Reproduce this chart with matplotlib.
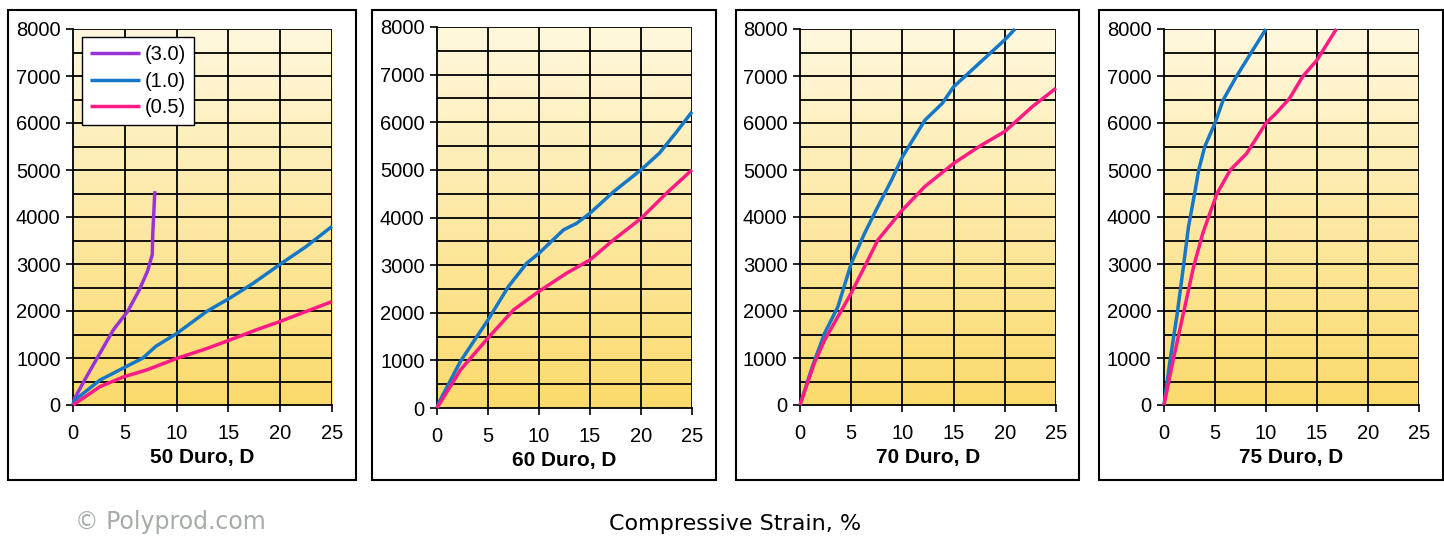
import matplotlib.pyplot as plt
import numpy as np
from matplotlib.colors import LinearSegmentedColormap
from matplotlib.patches import Rectangle

# ---- data (strain %, stress psi) ----
panel_titles = ["50 Duro, D", "60 Duro, D", "70 Duro, D", "75 Duro, D"]
series_names = ["(3.0)", "(1.0)", "(0.5)"]
series_colors = ["#9A33D6", "#1577C6", "#FF1A86"]

d50_s30_x = [0, 0.15, 1.3, 2.6, 3.9, 5.3, 6.4, 7.2, 7.65, 7.7, 7.8, 7.9]
d50_s30_y = [0, 140, 600, 1100, 1600, 2000, 2450, 2850, 3200, 3650, 4100, 4550]
d50_s10_x = [0, 0.15, 2.6, 4.8, 6.75, 8, 10, 12.9, 15.1, 17.4, 19.9, 22.5, 25]
d50_s10_y = [0, 100, 530, 780, 1000, 1250, 1520, 1990, 2270, 2590, 2980, 3370, 3800]
d50_s05_x = [0, 2.6, 4.9, 7.1, 10, 12.9, 15.1, 17.7, 19.9, 22.5, 25]
d50_s05_y = [0, 390, 600, 745, 990, 1200, 1380, 1600, 1770, 1990, 2200]

d60_s10_x = [0, 0.15, 2.3, 5, 7, 8.8, 10, 12.4, 13.7, 15, 17.3, 20, 21.8, 23.5, 25]
d60_s10_y = [0, 100, 980, 1850, 2550, 3040, 3250, 3740, 3880, 4090, 4540, 5000, 5350, 5800, 6220]
d60_s05_x = [0, 2.3, 5, 7.5, 10, 12.7, 15, 17.3, 20, 22.5, 25]
d60_s05_y = [0, 800, 1470, 2060, 2450, 2830, 3110, 3530, 3980, 4510, 5000]

d70_s10_x = [0, 1.2, 2.4, 3.7, 5, 6.3, 7.6, 8.95, 10, 12.2, 13.9, 15, 17.5, 20, 21]
d70_s10_y = [0, 815, 1525, 2090, 3010, 3650, 4220, 4790, 5280, 6060, 6420, 6770, 7270, 7770, 8000]
d70_s05_x = [0, 1.4, 2.4, 5, 6.3, 7.6, 10, 12.2, 15, 17.5, 20, 22.7, 25]
d70_s05_y = [0, 890, 1380, 2380, 2940, 3510, 4150, 4650, 5140, 5500, 5820, 6350, 6740]

d75_s10_x = [0, 0.6, 1.3, 1.9, 2.4, 3.0, 3.4, 4.0, 5, 5.8, 7.1, 8.7, 10]
d75_s10_y = [0, 960, 1950, 2940, 3790, 4500, 5000, 5500, 6000, 6490, 6990, 7550, 8000]
d75_s05_x = [0, 0.9, 1.9, 2.9, 3.8, 4.5, 5.2, 6.5, 8.1, 10, 11.0, 12.3, 13.6, 15, 16.9]
d75_s05_y = [0, 960, 1950, 2940, 3650, 4080, 4500, 5000, 5350, 6000, 6210, 6520, 6990, 7340, 8000]

panels = [
    [(d50_s30_x, d50_s30_y, 0), (d50_s10_x, d50_s10_y, 1), (d50_s05_x, d50_s05_y, 2)],
    [(d60_s10_x, d60_s10_y, 1), (d60_s05_x, d60_s05_y, 2)],
    [(d70_s10_x, d70_s10_y, 1), (d70_s05_x, d70_s05_y, 2)],
    [(d75_s10_x, d75_s10_y, 1), (d75_s05_x, d75_s05_y, 2)],
]

# ---- layout in pixels ----
W, H = 1444, 537
frames = [(8, 356), (372, 716), (736, 1079), (1099, 1443)]
axes_px = [(73, 332, 29, 405), (437, 692, 27, 408), (800, 1056, 29, 405), (1164, 1419, 29, 405)]

plt.rcParams['font.family'] = ['Liberation Sans', 'DejaVu Sans']

fig = plt.figure(figsize=(W / 100, H / 100), dpi=100)
fig.patch.set_facecolor("white")

grad = LinearSegmentedColormap.from_list("bg", ["#FBDA6C", "#FFF8DE"])
grad_img = np.linspace(0, 1, 256).reshape(-1, 1)

for i in range(4):
    fx0, fx1 = frames[i]
    fig.patches.append(Rectangle((fx0 / W, 1 - 480 / H), (fx1 - fx0) / W, (480 - 10) / H,
                                 transform=fig.transFigure, fill=False,
                                 edgecolor="black", linewidth=1.5))
    x0, x1, yt, yb = axes_px[i]
    ax = fig.add_axes([x0 / W, 1 - yb / H, (x1 - x0) / W, (yb - yt) / H])
    ax.imshow(grad_img, extent=[0, 25, 0, 8000], aspect="auto", cmap=grad,
              origin="lower", zorder=0)
    ax.set_xlim(0, 25)
    ax.set_ylim(0, 8000)
    for gx in range(5, 30, 5):
        ax.axvline(gx, color="black", lw=1.3, zorder=1)
    for gy in range(500, 8500, 500):
        ax.axhline(gy, color="black", lw=1.3, zorder=1)
    for xs, ys, k in panels[i]:
        ax.plot(xs, ys, color=series_colors[k], lw=2.5, label=series_names[k],
                zorder=3, clip_on=False, solid_capstyle="butt")
    ax.set_xticks(range(0, 30, 5))
    ax.set_yticks(range(0, 9000, 1000))
    ax.tick_params(direction="out", length=5, width=1.2, labelsize=14.5, color="black")
    ax.tick_params(axis="x", pad=9)
    ax.tick_params(axis="y", pad=4)
    for s in ["top", "right"]:
        ax.spines[s].set_visible(False)
    for s in ["left", "bottom"]:
        ax.spines[s].set_linewidth(1.3)
    ax.set_xlabel(panel_titles[i], fontsize=15, fontweight="bold", labelpad=3)
    if i == 0:
        leg = ax.legend(loc="upper left", bbox_to_anchor=(82 / W, 1 - 37 / H),
                        bbox_transform=fig.transFigure, borderaxespad=0,
                        fancybox=False, framealpha=1, edgecolor="black",
                        fontsize=14.5, handlelength=2.5, handletextpad=0.2,
                        labelspacing=0.38, borderpad=0.4)
        leg.get_frame().set_linewidth(1.0)

fig.text(75 / W, 1 - 522 / H, "© Polyprod.com", fontsize=17, color="#A6ACA6",
         family="DejaVu Sans", va="center", ha="left")
fig.text(735 / W, 1 - 524 / H, "Compressive Strain, %", fontsize=16,
         family="DejaVu Sans", va="center", ha="center")

fig.savefig("out.png", dpi=100)
